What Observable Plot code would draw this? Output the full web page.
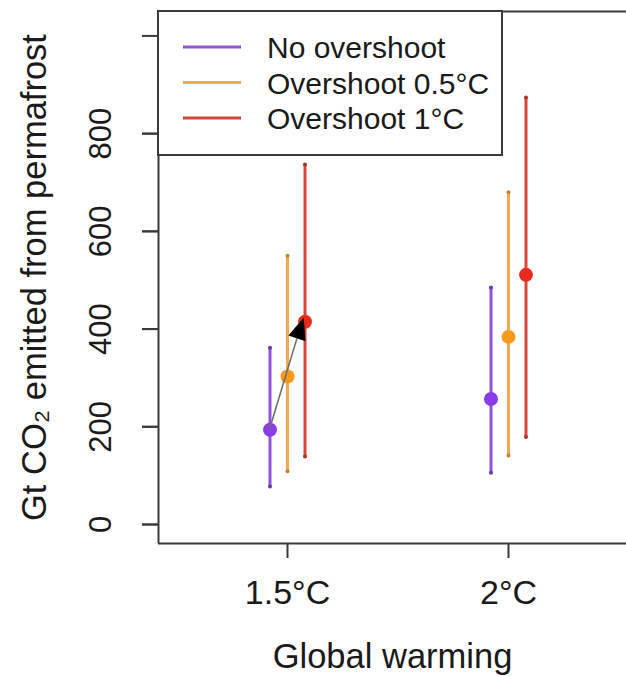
<!DOCTYPE html>
<html><head><meta charset="utf-8">
<script src="https://cdn.jsdelivr.net/npm/d3@7"></script>
<script src="https://cdn.jsdelivr.net/npm/@observablehq/plot@0.6"></script>
<style>
body{margin:0;background:#fff}
#chart svg{font-family:"Liberation Sans",Arial,Helvetica,sans-serif;background:#fff}
</style>
</head><body><div id="chart"></div>
<script>
// ---- data ----
const warming = [1.5, 2];
const warmingLabels = ["1.5°C", "2°C"];
const series = ["No overshoot", "Overshoot 0.5°C", "Overshoot 1°C"];
const mid15  = [194, 303, 415];
const low15  = [78, 109, 139];
const high15 = [362, 550, 737];
const mid20  = [257, 384, 511];
const low20  = [106, 141, 179];
const high20 = [485, 680, 874];
const yTicks = [0, 200, 400, 600, 800, 1000];
const yTickLabels = [0, 200, 400, 600, 800];
const xTitle = "Global warming";
const yTitle = "Gt CO₂ emitted from permafrost";

// ---- style ----
const lineColors = ["#9152d9", "#f3a84f", "#d9463b"];
const dotColors  = ["#8a3ce8", "#f59a1c", "#ea2a1c"];
const capColors  = ["#6a3aa0", "#c8842e", "#a8342c"];
const dodge = [-17.5, 0, 17.5];
const ink = "#3a3a3a";
const xDomain = [1.5 - 129 / 442, 2 + 118 / 442];
const yDomain = [-38.9, 1050];

const rows = [];
series.forEach((s, i) => {
  rows.push({warming: warming[0], series: s, i, mid: mid15[i], low: low15[i], high: high15[i]});
  rows.push({warming: warming[1], series: s, i, mid: mid20[i], low: low20[i], high: high20[i]});
});

const seriesMarks = series.flatMap((s, i) => {
  const d = rows.filter(r => r.i === i);
  return [
    Plot.ruleX(d, {x: "warming", y1: "low", y2: "high", dx: dodge[i], stroke: lineColors[i], strokeWidth: 3}),
    Plot.dot(d, {x: "warming", y: "low", dx: dodge[i], r: 2, fill: capColors[i]}),
    Plot.dot(d, {x: "warming", y: "high", dx: dodge[i], r: 2, fill: capColors[i]}),
    Plot.dot(d, {x: "warming", y: "mid", dx: dodge[i], r: 7, fill: dotColors[i]})
  ];
});

// arrow from "No overshoot" to "Overshoot 1°C" at 1.5°C
function arrowMark(index, scales) {
  const x0 = scales.x(warming[0]) + dodge[0], y0 = scales.y(mid15[0]);
  const x1 = scales.x(warming[0]) + dodge[2], y1 = scales.y(mid15[2]);
  const L = Math.hypot(x1 - x0, y1 - y0);
  const ux = (x1 - x0) / L, uy = (y1 - y0) / L;
  const tx = x1 + 4 * ux - 2, ty = y1 + 4 * uy;
  const hl = 22, hw = 9;
  const bx = tx - hl * ux, by = ty - hl * uy;
  const g = d3.create("svg:g");
  g.append("line").attr("x1", x0).attr("y1", y0).attr("x2", bx).attr("y2", by)
    .attr("stroke", "#6f6f6f").attr("stroke-width", 1.6);
  g.append("path")
    .attr("d", `M${tx},${ty}L${bx - hw * uy},${by + hw * ux}L${bx + hw * uy},${by - hw * ux}Z`)
    .attr("fill", "#000");
  return g.node();
}

function legendMark(index, scales, values, dimensions) {
  const left = dimensions.marginLeft, top = dimensions.marginTop;
  const g = d3.create("svg:g");
  g.append("rect").attr("x", left).attr("y", top).attr("width", 344).attr("height", 144)
    .attr("fill", "#fff").attr("stroke", ink).attr("stroke-width", 2);
  series.forEach((s, i) => {
    const y = top + 36 + i * 35.5;
    g.append("line").attr("x1", left + 25).attr("x2", left + 83).attr("y1", y).attr("y2", y)
      .attr("stroke", lineColors[i]).attr("stroke-width", 3);
    g.append("text").attr("x", left + 109).attr("y", y + 11)
      .attr("text-anchor", "start")
      .attr("font-size", 30).attr("fill", "#1a1a1a").text(s);
  });
  return g.node();
}

const chart = Plot.plot({
  width: 626,
  height: 676,
  marginLeft: 158,
  marginRight: 0,
  marginTop: 11,
  marginBottom: 133,
  style: {fontFamily: '"Liberation Sans", Arial, sans-serif', background: "#fff", overflow: "visible"},
  x: {type: "linear", domain: xDomain},
  y: {domain: yDomain},
  marks: [
    Plot.axisY({ticks: yTicks, tickSize: 16, fill: "none", stroke: ink, strokeWidth: 2, label: null}),
    Plot.axisY({ticks: yTickLabels, tickSize: 16, tickPadding: 32, tickRotate: -90, fontSize: 31,
      stroke: ink, strokeWidth: 2, fill: "#1a1a1a", label: null}),
    Plot.axisX({ticks: warming, tickFormat: d => warmingLabels[warming.indexOf(d)], tickSize: 15,
      tickPadding: 21, fontSize: 34, stroke: ink, strokeWidth: 2, fill: "#1a1a1a", label: null}),
    Plot.ruleX([xDomain[0]], {stroke: ink, strokeWidth: 2}),
    Plot.ruleY(yDomain, {stroke: ink, strokeWidth: 2}),
    ...seriesMarks,
    arrowMark,
    legendMark,
    Plot.text([xTitle], {text: d => d, frameAnchor: "bottom", dy: 124, lineAnchor: "bottom",
      fontSize: 34.5, fill: "#1a1a1a"}),
    Plot.text([yTitle], {text: d => d, frameAnchor: "left", dx: -113, rotate: -90, lineAnchor: "bottom",
      textAnchor: "middle", fontSize: 34.5, fill: "#1a1a1a"})
  ]
});
document.getElementById("chart").append(chart);
</script>
</body></html>
